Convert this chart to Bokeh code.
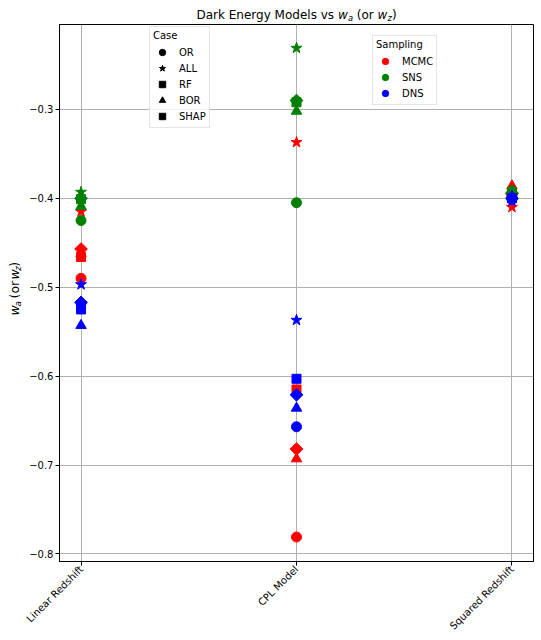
import math
from bokeh.plotting import figure
from bokeh.layouts import column, row
from bokeh.models import Range1d, FixedTicker, CustomJSTickFormatter, Legend, LegendItem, Label
from bokeh.embed import file_html
from bokeh.resources import INLINE

models = ["Linear Redshift", "CPL Model", "Squared Redshift"]
cases = ["OR", "ALL", "RF", "BOR", "SHAP"]
samplings = ["MCMC", "SNS", "DNS"]

mcmc_or = [-0.490, -0.781, -0.398]
mcmc_all = [-0.415, -0.337, -0.410]
mcmc_rf = [-0.466, -0.615, -0.395]
mcmc_bor = [-0.462, -0.693, -0.386]
mcmc_shap = [-0.457, -0.682, -0.395]

sns_or = [-0.425, -0.405, -0.398]
sns_all = [-0.393, -0.231, -0.396]
sns_rf = [-0.401, -0.292, -0.393]
sns_bor = [-0.409, -0.302, -0.391]
sns_shap = [-0.400, -0.290, -0.394]

dns_or = [-0.518, -0.657, -0.401]
dns_all = [-0.497, -0.537, -0.403]
dns_rf = [-0.525, -0.603, -0.400]
dns_bor = [-0.543, -0.636, -0.398]
dns_shap = [-0.517, -0.621, -0.400]

y_ticks = [-0.8, -0.7, -0.6, -0.5, -0.4, -0.3]

series = {
    "MCMC": [mcmc_or, mcmc_all, mcmc_rf, mcmc_bor, mcmc_shap],
    "SNS": [sns_or, sns_all, sns_rf, sns_bor, sns_shap],
    "DNS": [dns_or, dns_all, dns_rf, dns_bor, dns_shap],
}
colors = {"MCMC": "red", "SNS": "green", "DNS": "blue"}
# marker, size, angle
marker_spec = {
    "OR": ("circle", 10, 0.0),
    "ALL": ("star", 11.5, 0.0),
    "RF": ("square", 9, 0.0),
    "BOR": ("triangle", 10.5, 0.0),
    "SHAP": ("square", 9, math.pi / 4),
}

TOTAL_W, TOTAL_H = 541, 640
TITLE_H = 24
YLAB_W = 24

p = figure(width=TOTAL_W - YLAB_W, height=TOTAL_H - TITLE_H,
           x_range=Range1d(-0.1, 2.1), y_range=Range1d(-0.8085, -0.2045),
           output_backend="svg", toolbar_location=None, title=None,
           min_border_left=59 - YLAB_W, min_border_right=8, min_border_top=0, min_border_bottom=79)
p.background_fill_color = "white"
p.border_fill_color = "white"
p.outline_line_color = "black"
p.outline_line_alpha = 1.0
p.outline_line_width = 1

xs = list(range(len(models)))
for s in samplings:
    for ci, c in enumerate(cases):
        m, sz, ang = marker_spec[c]
        p.scatter(xs, series[s][ci], marker=m, size=sz, angle=ang,
                  fill_color=colors[s], line_color=colors[s])

# axes
p.xaxis.ticker = FixedTicker(ticks=xs)
p.xgrid.ticker = FixedTicker(ticks=xs)
p.xaxis.major_label_overrides = {i: models[i] for i in xs}
p.xaxis.major_label_orientation = math.pi / 4
p.yaxis.ticker = FixedTicker(ticks=y_ticks)
p.ygrid.ticker = FixedTicker(ticks=y_ticks)
p.yaxis.formatter = CustomJSTickFormatter(
    code="return (tick < 0 ? '\\u2212' : '') + Math.abs(tick).toFixed(1);")
for ax in (p.xaxis, p.yaxis):
    ax.axis_line_color = "black"
    ax.major_tick_line_color = "black"
    ax.major_tick_out = 4
    ax.major_tick_in = 0
    ax.minor_tick_line_color = None
    ax.major_label_text_color = "black"
    ax.major_label_text_font = "DejaVu Sans"
    ax.major_label_text_font_size = "10px"
    ax.major_label_standoff = 2
for g in (p.xgrid, p.ygrid):
    g.grid_line_color = "#b0b0b0"
    g.grid_line_width = 1

# legends (proxy renderers holding no visible point)
nan = float("nan")
case_items = []
for c in cases:
    m, sz, ang = marker_spec[c]
    r = p.scatter(x=[nan], y=[nan], marker=m, size=sz, angle=ang, fill_color="black", line_color="black")
    case_items.append(LegendItem(label=c, renderers=[r], index=0))
samp_items = []
for s in samplings:
    r = p.scatter(x=[nan], y=[nan], marker="circle", size=10, fill_color=colors[s], line_color=colors[s])
    samp_items.append(LegendItem(label=s, renderers=[r], index=0))


def style_legend(lg):
    lg.label_text_font = "DejaVu Sans"
    lg.label_text_font_size = "10px"
    lg.title_text_font = "DejaVu Sans"
    lg.title_text_font_size = "10px"
    lg.title_text_font_style = "normal"
    lg.title_text_color = "black"
    lg.label_text_color = "black"
    lg.glyph_width = 18
    lg.glyph_height = 16
    lg.label_height = 16
    lg.spacing = 0
    lg.padding = 3
    lg.margin = 0
    lg.label_standoff = 8
    lg.title_standoff = 3
    lg.border_line_color = "#cccccc"
    lg.background_fill_alpha = 0.8


FH = 537
lg1 = Legend(items=case_items, title="Case", location=(90, FH - 104))
lg2 = Legend(items=samp_items, title="Sampling", location=(313, FH - 81))
style_legend(lg1)
style_legend(lg2)
p.add_layout(lg1)
p.add_layout(lg2)


def text_fig(w, h):
    f = figure(width=w, height=h, x_range=Range1d(0, w), y_range=Range1d(0, h),
               output_backend="svg", toolbar_location=None, title=None,
               x_axis_type=None, y_axis_type=None, min_border=0)
    f.grid.visible = False
    f.outline_line_color = None
    f.background_fill_color = "white"
    f.border_fill_color = "white"
    return f


def add_text(f, txt, x, y, size, style="normal", angle=0.0):
    f.add_layout(Label(x=x, y=y, text=txt, angle=angle,
                       text_font="DejaVu Sans", text_font_size=f"{size}px", text_font_style=style,
                       text_color="black", text_align="left", text_baseline="middle"))


# title (composed mathtext)
tf = text_fig(TOTAL_W, TITLE_H)
t0 = 59 + 237 - 100
tb = TITLE_H - 14
add_text(tf, "Dark Energy Models vs", t0, tb, 12)
add_text(tf, "w", t0 + 141.6, tb, 12, "italic")
add_text(tf, "a", t0 + 151.4, tb - 3, 8.4, "italic")
add_text(tf, "(or", t0 + 160.3, tb, 12)
add_text(tf, "w", t0 + 181.1, tb, 12, "italic")
add_text(tf, "z", t0 + 190.9, tb - 3, 8.4, "italic")
add_text(tf, ")", t0 + 195.5, tb, 12)

# y axis label (rotated)
yf = text_fig(YLAB_W, TOTAL_H - TITLE_H)
yx = 14
y0 = (TOTAL_H - 292.5) - 29.2 - 36
A = math.pi / 2
add_text(yf, "w", yx, y0, 12.5, "italic", A)
add_text(yf, "a", yx + 3, y0 + 10.2, 8.7, "italic", A)
add_text(yf, "(or", yx, y0 + 19.4, 12.5, "normal", A)
add_text(yf, "w", yx, y0 + 41.1, 12.5, "italic", A)
add_text(yf, "z", yx + 3, y0 + 51.3, 8.7, "italic", A)
add_text(yf, ")", yx, y0 + 55.9, 12.5, "normal", A)

layout = column(tf, row(yf, p, spacing=0), spacing=0)
open("out.html", "w").write(file_html(layout, INLINE))
